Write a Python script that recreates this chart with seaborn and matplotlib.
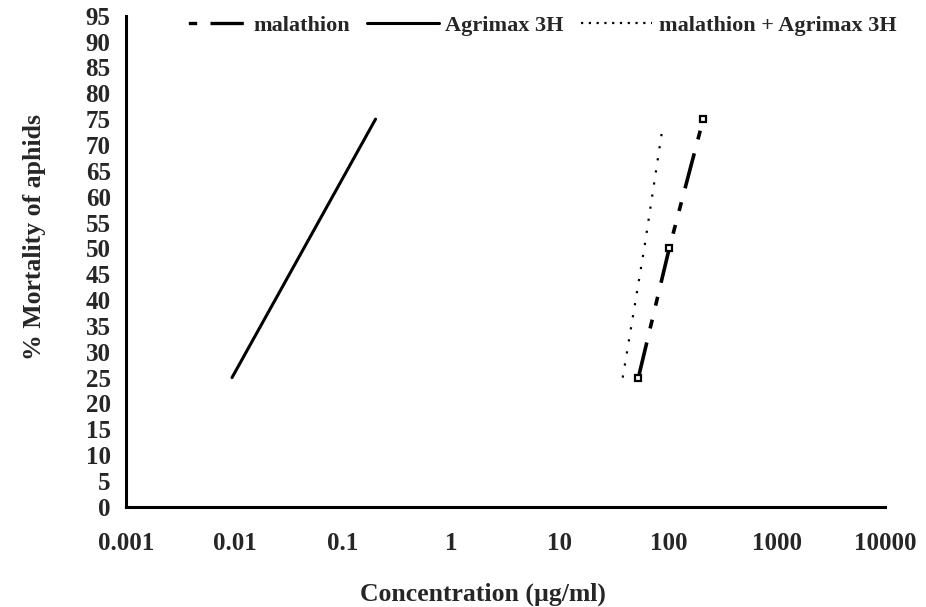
import matplotlib
matplotlib.use("Agg")
import matplotlib.pyplot as plt
import seaborn as sns
from matplotlib.lines import Line2D
from matplotlib.ticker import FixedLocator, FixedFormatter, NullLocator

# Data
mal_conc = [53, 102, 210]
mal_mort = [25, 50, 75]
agr_conc = [0.0095, 0.2]
agr_mort = [25, 75]
mix_conc = [38, 60, 88]
mix_mort = [25, 50, 73]

x_ticks = [0.001, 0.01, 0.1, 1, 10, 100, 1000, 10000]
x_labels = ["0.001", "0.01", "0.1", "1", "10", "100", "1000", "10000"]
y_ticks = list(range(0, 100, 5))
series_labels = ["malathion", "Agrimax 3H", "malathion + Agrimax 3H"]

sns.set_theme(style="white")
plt.rcParams['font.family'] = ['Liberation Serif', 'DejaVu Serif']
plt.rcParams['font.weight'] = 'bold'

fig = plt.figure(figsize=(9.26, 6.07), dpi=100)
ax = fig.add_axes([0.136, 0.165, 0.956 - 0.136, 0.974 - 0.165])

mal_pat = (10, 4, 2.5, 4, 2.5, 4)
mal_ls = (0, mal_pat)
mix_ls = (0, (1, 4.5))

sns.lineplot(x=mal_conc, y=mal_mort, ax=ax, color='black', linewidth=2.6,
             linestyle=mal_ls, marker='s', markersize=5,
             markerfacecolor='white', markeredgecolor='black', markeredgewidth=1.6)
sns.lineplot(x=agr_conc, y=agr_mort, ax=ax, color='black', linewidth=2.2)
sns.lineplot(x=mix_conc, y=mix_mort, ax=ax, color='black', linewidth=1.6,
             linestyle=mix_ls)

ax.set_xscale('log')
ax.set_xlim(0.001, 10000)
ax.set_ylim(0, 95)
ax.xaxis.set_major_locator(FixedLocator(x_ticks))
ax.xaxis.set_major_formatter(FixedFormatter(x_labels))
ax.xaxis.set_minor_locator(NullLocator())
ax.set_yticks(y_ticks)
ax.set_yticklabels([str(v) for v in y_ticks])

for s in ['top', 'right']:
    ax.spines[s].set_visible(False)
for s in ['left', 'bottom']:
    ax.spines[s].set_color('black')
    ax.spines[s].set_linewidth(2.2)

ax.tick_params(axis='both', which='major', direction='out', length=6, width=2,
               color='black', labelsize=18, pad=5)
ax.tick_params(axis='x', pad=12)
for lab in ax.get_xticklabels() + ax.get_yticklabels():
    lab.set_fontweight('bold')

ax.set_xlabel("Concentration (\u00b5g/ml)", fontsize=18.5, fontweight='bold')
ax.set_ylabel("% Mortality of aphids", fontsize=18.5, fontweight='bold')
ax.xaxis.set_label_coords(0.47, -0.155)
ax.yaxis.set_label_coords(-0.105, 0.55)
ax.grid(False)

handles = [
    Line2D([], [], color='black', linewidth=2.4, linestyle=(16.5, mal_pat)),
    Line2D([], [], color='black', linewidth=2.2),
    Line2D([], [], color='black', linewidth=1.6, linestyle=(0, (1, 2.5))),
]
leg = fig.legend(handles, series_labels, loc='upper right', bbox_to_anchor=(0.99, 1.008),
                 ncol=3, frameon=False, handlelength=3.2,
                 columnspacing=0.8, handletextpad=0.3, prop={'weight': 'bold', 'size': 16})

fig.savefig("out.png", dpi=100, facecolor='white')
